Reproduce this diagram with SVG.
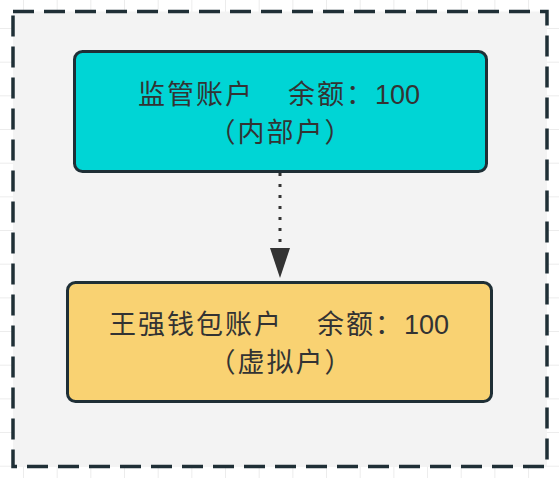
<svg xmlns="http://www.w3.org/2000/svg" width="559" height="478" viewBox="0 0 559 478">
<defs>
<pattern id="grid" x="23" y="28" width="33.67" height="33.67" patternUnits="userSpaceOnUse">
<path d="M0.5 0 V33.67 M0 0.5 H33.67" fill="none" stroke="#ececec" stroke-width="1"/>
</pattern>
<style>
.box{stroke:#1f2f36;stroke-width:3}
.lbl{font-family:"Liberation Sans","Noto Sans CJK SC",sans-serif;font-size:27px;fill:#333333;letter-spacing:2px;word-spacing:-1px;white-space:pre;text-anchor:middle}
.num{letter-spacing:0}
</style>
</defs>
<rect width="559" height="478" fill="#ffffff"/>
<rect width="559" height="478" fill="url(#grid)"/>
<g id="container">
<rect x="13" y="11.5" width="534" height="455" fill="#f3f3f3" stroke="#1f2f36" stroke-width="3.5" stroke-dasharray="21 10"/>
</g>
<g id="connectors">
<path d="M280 173 V248" fill="none" stroke="#333333" stroke-width="3" stroke-dasharray="3 8"/>
<path d="M270 248 L290 248 L280 278 Z" fill="#333333"/>
</g>
<g id="node-supervision">
<rect class="box" x="74.5" y="51.5" width="412" height="120" rx="8" fill="#00d5d5"/>
<text class="lbl" x="279" y="104" xml:space="preserve">监管账户    余额：<tspan class="num">100</tspan></text>
<text class="lbl" x="281" y="142">（内部户）</text>
</g>
<g id="node-wallet">
<rect class="box" x="67.5" y="282.5" width="424" height="119" rx="8" fill="#f9d272"/>
<text class="lbl" x="279" y="334" xml:space="preserve">王强钱包账户    余额：<tspan class="num">100</tspan></text>
<text class="lbl" x="281" y="372">（虚拟户）</text>
</g>
</svg>
